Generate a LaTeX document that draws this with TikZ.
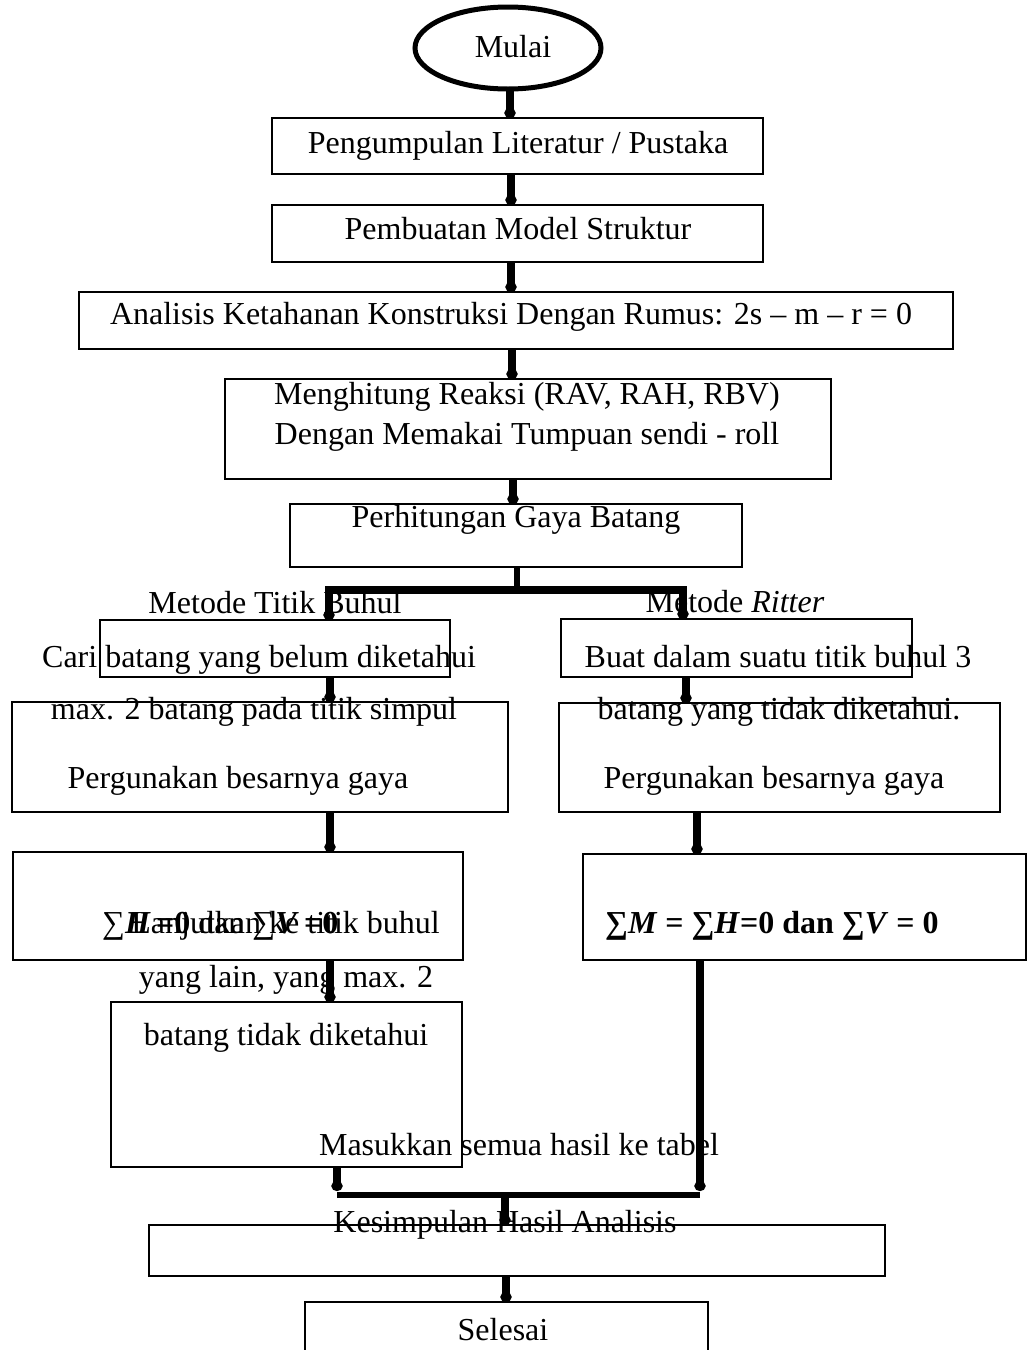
\documentclass[tikz,border=0pt]{standalone}
\usepackage{fontspec}
\setmainfont{Liberation Serif}
\usetikzlibrary{arrows.meta,shapes.geometric}
\newcommand\flowbox[5]{\node[box, minimum width={#4-#2}, minimum height={#5-#3}] (#1) at ({(#2+#4)/2},{(#3+#5)/2}) {};}
\begin{document}
\begin{tikzpicture}[x=1pt,y=-1pt,
  box/.style={draw, line width=1.6pt, rectangle, inner sep=0pt, outer sep=0pt},
  txt/.style={anchor=base, inner sep=0pt, font=\fontsize{32}{38}\selectfont},
  tipc/.tip={Circle[length=10pt,width=11pt]},
  conn/.style={line width=7.5pt, -tipc},
  bar/.style={line width=6pt}]
\useasboundingbox[fill=white] (0,0) rectangle (1027,1350);

% start
\node[draw, ellipse, line width=5pt, minimum width=186, minimum height=82, inner sep=0pt, outer sep=0pt] (mulai) at (508,48) {};
\node[txt] (tmulai) at (513,57) {Mulai};

% boxes
\flowbox{b1}{272}{118}{763}{174}
\flowbox{b2}{272}{205}{763}{262}
\flowbox{b3}{79}{292}{953}{349}
\flowbox{b4}{225}{379}{831}{479}
\flowbox{b5}{290}{504}{742}{567}
\flowbox{l1}{100}{620}{450}{677}
\flowbox{l2}{12}{702}{508}{812}
\flowbox{l3}{13}{852}{463}{960}
\flowbox{l4}{111}{1002}{462}{1167}
\flowbox{r1}{561}{619}{912}{677}
\flowbox{r2}{559}{703}{1000}{812}
\flowbox{r3}{583}{854}{1026}{960}
\flowbox{k}{149}{1225}{885}{1276}
\flowbox{s}{305}{1302}{708}{1365}

% texts
\node[txt] (t1) at (518,153) {Pengumpulan Literatur / Pustaka};
\node[txt] (t2) at (518,239) {Pembuatan Model Struktur};
\node[txt] (t3) at (511,324) {Analisis Ketahanan Konstruksi Dengan Rumus: 2s – m – r = 0};
\node[txt] (t4a) at (527,404) {Menghitung Reaksi (RAV, RAH, RBV)};
\node[txt] (t4b) at (527,444) {Dengan Memakai Tumpuan sendi - roll};
\node[txt] (t5) at (516,527) {Perhitungan Gaya Batang};
\node[txt] (mtb) at (275,613) {Metode Titik Buhul};
\node[txt] (mr) at (735,612) {Metode \textit{Ritter}};
\node[txt] (tl1) at (259,667) {Cari batang yang belum diketahui};
\node[txt] (tl2a) at (254,719) {max. 2 batang pada titik simpul};
\node[txt] (tl2b) at (238,788) {Pergunakan besarnya gaya};
\node[txt, anchor=base east] (tl3a) at (440,933) {Lanjutkan ke titik buhul};
\node[txt, anchor=base west] (tl3b) at (102,933) {∑\textbf{\textit{H}}\,\textbf{=0} dan ∑\textbf{\textit{V}}\,\textbf{=0}};
\node[txt] (tl3c) at (286,987) {yang lain, yang max. 2};
\node[txt] (tl4) at (286,1045) {batang tidak diketahui};
\node[txt] (tr1) at (778,667) {Buat dalam suatu titik buhul 3};
\node[txt] (tr2a) at (779,719) {batang yang tidak diketahui.};
\node[txt] (tr2b) at (774,788) {Pergunakan besarnya gaya};
\node[txt, anchor=base west] (tr3) at (605,933) {\textbf{∑\textit{M} = ∑\textit{H}=0 dan ∑\textit{V} = 0}};
\node[txt] (tmas) at (519,1155) {Masukkan semua hasil ke tabel};
\node[txt] (tk) at (505,1232) {Kesimpulan Hasil Analisis};
\node[txt] (ts) at (503,1340) {Selesai};

% connector x positions
\coordinate (xa) at (510,0);
\coordinate (xb) at (511,0);
\coordinate (xc) at (512,0);
\coordinate (xd) at (513,0);
\coordinate (split) at (517,590);
\coordinate (xl) at (329,0);
\coordinate (xr) at (683,0);
\coordinate (xl2) at (330,0);
\coordinate (xr1) at (686,0);
\coordinate (xr2) at (697,0);
\coordinate (m1) at (337,1191);
\coordinate (m2) at (700,1191);
\coordinate (mc) at (505,1195);
\coordinate (xs) at (506,0);

% connectors
\draw[conn] (mulai.south -| xa) -- (b1.north -| xa);
\draw[conn] (b1.south -| xb) -- (b2.north -| xb);
\draw[conn] (b2.south -| xb) -- (b3.north -| xb);
\draw[conn] (b3.south -| xc) -- (b4.north -| xc);
\draw[conn] (b4.south -| xd) -- (b5.north -| xd);
\draw[bar] (b5.south -| split) -- (split);
\draw[conn, tipc-tipc] (l1.north -| xl) |- (split) -| (r1.north -| xr);
\draw[conn] (l1.south -| xl2) -- (l2.north -| xl2);
\draw[conn] (l2.south -| xl2) -- (l3.north -| xl2);
\draw[conn] (l3.south -| xl2) -- (l4.north -| xl2);
\draw[conn] (r1.south -| xr1) -- (r2.north -| xr1);
\draw[conn] (r2.south -| xr2) -- (r3.north -| xr2);
\draw[conn] (l4.south -| m1) -- (m1);
\draw[conn] (r3.south -| m2) -- (m2);
\draw[line width=5.5pt] ([yshift=-4pt]m1) -- ([yshift=-4pt]m2);
\draw[conn] (mc) -- (k.north -| mc);
\draw[conn] (k.south -| xs) -- (s.north -| xs);
\end{tikzpicture}
\end{document}
